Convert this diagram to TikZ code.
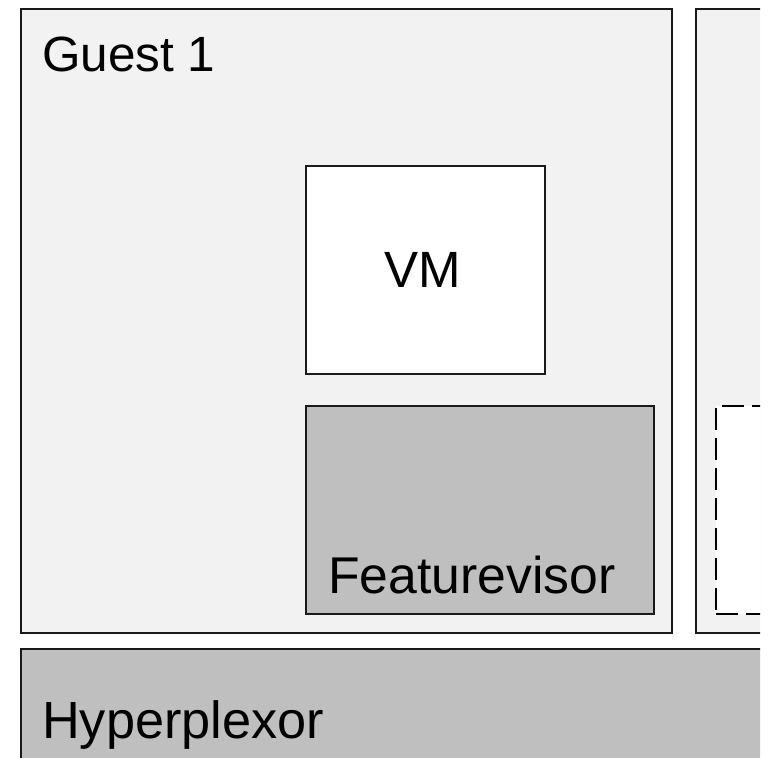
\documentclass[tikz,border=0pt]{standalone}
\usepackage{fontspec}
\setmainfont{Liberation Sans}
\definecolor{guestfill}{HTML}{F2F2F2}
\definecolor{layerfill}{HTML}{BFBFBF}
\definecolor{edge}{HTML}{1A1A1A}
\tikzset{
  box/.style={draw=edge, line width=2.5pt, rectangle, inner sep=0pt, outer sep=0pt, anchor=north west},
  guestbox/.style={box, fill=guestfill},
  layerbox/.style={box, fill=layerfill},
  vmbox/.style={box, fill=white},
  slotbox/.style={draw=black, line width=2.5pt, dash pattern=on 22pt off 8pt, fill=white, rectangle, inner sep=0pt, outer sep=0pt, anchor=north west},
  lbl/.style={inner sep=0pt, text=black},
  fs/.style={font=\fontsize{#1}{#1}\selectfont}
}
\begin{document}
\begin{tikzpicture}[x=1pt, y=-1pt]
  \useasboundingbox (0,0) rectangle (770,757);
  \clip (0,0) rectangle (760,757);
  % guests
  \node[guestbox, minimum width=651pt, minimum height=624pt] (guest1) at (21,9) {};
  \node[guestbox, minimum width=400pt, minimum height=624pt] (guest2) at (696,9) {};
  % components inside guest 1
  \node[vmbox, minimum width=239pt, minimum height=208pt] (vm) at (306,166) {};
  \node[layerbox, minimum width=348pt, minimum height=208pt] (fv) at (306,406) {};
  % placeholder inside guest 2
  \node[slotbox, minimum width=300pt, minimum height=208pt] (slot) at (716,406) {};
  % host layer
  \node[layerbox, minimum width=900pt, minimum height=200pt] (hp) at (21,649) {};
  % labels
  \node[lbl, fs=49.5, anchor=base west] (guest1label) at (42,72) {Guest 1};
  \node[lbl, fs=51, anchor=base] (vmlabel) at (423,287) {VM};
  \node[lbl, fs=51.7, anchor=base west] (fvlabel) at (328,593) {Featurevisor};
  \node[lbl, fs=52.3, anchor=base west] (hplabel) at (42,738) {Hyperplexor};
\end{tikzpicture}
\end{document}
